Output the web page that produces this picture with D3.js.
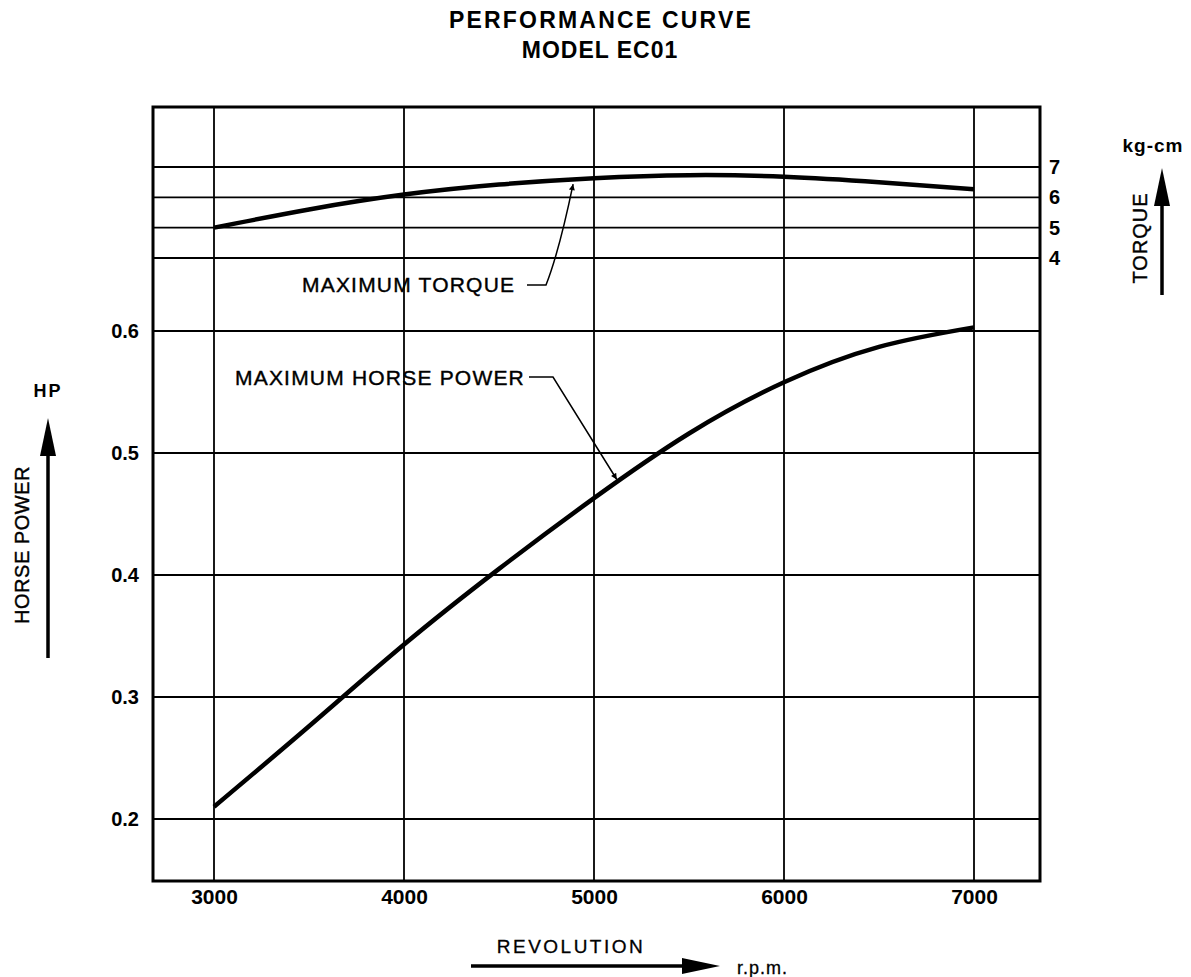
<!DOCTYPE html>
<html>
<head>
<meta charset="utf-8">
<script src="https://cdn.jsdelivr.net/npm/d3@7"></script>
<style>
  body { margin: 0; background: #fff; }
  svg { display: block; font-family: "Liberation Sans", Arial, Helvetica, sans-serif; }
</style>
</head>
<body>
<div id="chart"></div>
<script>
const rpm = [3000, 3500, 4000, 4500, 5000, 5500, 6000, 6500, 7000];
const horsePower = [0.21, 0.276, 0.343, 0.405, 0.463, 0.516, 0.558, 0.587, 0.603];
const torque = [5.0, 5.6, 6.09, 6.42, 6.63, 6.73, 6.68, 6.5, 6.27];

const rpmTicks = [3000, 4000, 5000, 6000, 7000];
const hpTicks = [0.2, 0.3, 0.4, 0.5, 0.6];
const torqueTicks = [4, 5, 6, 7];

const width = 1191, height = 977;
const frame = {left: 153, right: 1040, top: 107, bottom: 881};

const x = d3.scaleLinear().domain([3000, 7000]).range([214, 974]);
const yHP = d3.scaleLinear().domain([0.2, 0.6]).range([819, 331]);
const yT = d3.scaleLinear().domain([4, 7]).range([258, 167]);

const svg = d3.select("#chart").append("svg")
  .attr("width", width)
  .attr("height", height)
  .attr("viewBox", [0, 0, width, height]);

// arrowhead for the leader lines
svg.append("defs").append("marker")
  .attr("id", "tip")
  .attr("viewBox", "0 0 10 10")
  .attr("refX", 10).attr("refY", 5)
  .attr("markerWidth", 13).attr("markerHeight", 6)
  .attr("markerUnits", "userSpaceOnUse")
  .attr("orient", "auto")
  .append("path").attr("d", "M0,0 L10,5 L0,10 Z").attr("fill", "#000");

// title
svg.append("text")
  .attr("x", 601).attr("y", 28)
  .attr("text-anchor", "middle")
  .style("font-size", "23px").style("font-weight", "bold").style("letter-spacing", "2.2px")
  .text("PERFORMANCE CURVE");
svg.append("text")
  .attr("x", 600).attr("y", 58)
  .attr("text-anchor", "middle")
  .style("font-size", "23px").style("font-weight", "bold").style("letter-spacing", "1px")
  .text("MODEL EC01");

// grid
const grid = svg.append("g").attr("stroke", "#000").attr("stroke-width", 1.8);
grid.selectAll(".vx").data(rpmTicks).join("line")
  .attr("x1", d => x(d)).attr("x2", d => x(d))
  .attr("y1", frame.top).attr("y2", frame.bottom);
grid.selectAll(".hp").data(hpTicks).join("line")
  .attr("x1", frame.left).attr("x2", frame.right)
  .attr("y1", d => yHP(d)).attr("y2", d => yHP(d));
grid.selectAll(".tq").data(torqueTicks).join("line")
  .attr("x1", frame.left).attr("x2", frame.right)
  .attr("y1", d => yT(d)).attr("y2", d => yT(d));

svg.append("rect")
  .attr("x", frame.left).attr("y", frame.top)
  .attr("width", frame.right - frame.left).attr("height", frame.bottom - frame.top)
  .attr("fill", "none").attr("stroke", "#000").attr("stroke-width", 3);

// axes
svg.append("g")
  .attr("transform", `translate(${frame.left},0)`)
  .style("font-size", "20px").style("font-weight", "bold")
  .call(d3.axisLeft(yHP).tickValues(hpTicks).tickSize(0).tickPadding(14).tickFormat(d3.format(".1f")))
  .call(g => g.select(".domain").remove());

svg.append("g")
  .attr("transform", `translate(0,${frame.bottom})`)
  .style("font-size", "21px").style("font-weight", "bold")
  .call(d3.axisBottom(x).tickValues(rpmTicks).tickSize(0).tickPadding(8).tickFormat(d3.format("d")))
  .call(g => g.select(".domain").remove());

svg.append("g")
  .attr("transform", `translate(${frame.right},0)`)
  .style("font-size", "20px").style("font-weight", "bold")
  .call(d3.axisRight(yT).tickValues(torqueTicks).tickSize(0).tickPadding(9).tickFormat(d3.format("d")))
  .call(g => g.select(".domain").remove());

// curves
const hpLine = d3.line().curve(d3.curveNatural).x((d, i) => x(rpm[i])).y(d => yHP(d));
const tqLine = d3.line().curve(d3.curveNatural).x((d, i) => x(rpm[i])).y(d => yT(d));

svg.append("path").datum(torque)
  .attr("d", tqLine)
  .attr("fill", "none").attr("stroke", "#000").attr("stroke-width", 4.5);
svg.append("path").datum(horsePower)
  .attr("d", hpLine)
  .attr("fill", "none").attr("stroke", "#000").attr("stroke-width", 4.5);

// annotations
const labelStyle = g => g.style("font-size", "21px").style("letter-spacing", "1.2px")
  .attr("stroke", "#000").attr("stroke-width", 0.4);

svg.append("text").attr("x", 302).attr("y", 292).call(labelStyle).text("MAXIMUM TORQUE");
const tqTipX = x(4890), tqTipY = yT(6.6) + 5;
svg.append("path")
  .attr("d", `M527,285 H546 Q559,252 ${tqTipX},${tqTipY}`)
  .attr("fill", "none").attr("stroke", "#000").attr("stroke-width", 1.5)
  .attr("marker-end", "url(#tip)");

svg.append("text").attr("x", 235).attr("y", 385).call(labelStyle).text("MAXIMUM HORSE POWER");
const hpTipX = x(5120), hpTipY = yHP(0.475) - 4;
svg.append("path")
  .attr("d", `M529,377 H553 L${hpTipX},${hpTipY}`)
  .attr("fill", "none").attr("stroke", "#000").attr("stroke-width", 1.5)
  .attr("marker-end", "url(#tip)");

// axis titles with arrows
function arrow(x1, y1, x2, y2) {
  const g = svg.append("g");
  const ang = Math.atan2(y2 - y1, x2 - x1);
  const len = 38, half = 8;
  const bx = x2 - len * Math.cos(ang), by = y2 - len * Math.sin(ang);
  g.append("line").attr("x1", x1).attr("y1", y1).attr("x2", bx).attr("y2", by)
    .attr("stroke", "#000").attr("stroke-width", 3.5);
  g.append("path")
    .attr("d", `M${x2},${y2} L${bx - half * Math.sin(ang)},${by + half * Math.cos(ang)} L${bx + half * Math.sin(ang)},${by - half * Math.cos(ang)} Z`)
    .attr("fill", "#000");
}

svg.append("text").attr("x", 48).attr("y", 397).attr("text-anchor", "middle")
  .style("font-size", "18px").style("font-weight", "bold").style("letter-spacing", "2px").text("HP");
arrow(48, 658, 48, 418);
svg.append("text")
  .attr("transform", "translate(29,545) rotate(-90)")
  .attr("text-anchor", "middle")
  .attr("stroke", "#000").attr("stroke-width", 0.4)
  .style("font-size", "20px").style("letter-spacing", "0.5px")
  .text("HORSE POWER");

svg.append("text").attr("x", 1153).attr("y", 152).attr("text-anchor", "middle")
  .style("font-size", "19px").style("font-weight", "bold").style("letter-spacing", "1px").text("kg-cm");
arrow(1162, 295, 1162, 168);
svg.append("text")
  .attr("transform", "translate(1147,238) rotate(-90)")
  .attr("text-anchor", "middle")
  .attr("stroke", "#000").attr("stroke-width", 0.4)
  .style("font-size", "20px").style("letter-spacing", "1px")
  .text("TORQUE");

svg.append("text").attr("x", 571).attr("y", 953).attr("text-anchor", "middle")
  .attr("stroke", "#000").attr("stroke-width", 0.3)
  .style("font-size", "19px").style("letter-spacing", "2.5px")
  .text("REVOLUTION");
arrow(471, 966, 720, 966);
svg.append("text").attr("x", 737).attr("y", 974)
  .attr("stroke", "#000").attr("stroke-width", 0.3)
  .style("font-size", "18px").style("letter-spacing", "1px").text("r.p.m.");
</script>
</body>
</html>
